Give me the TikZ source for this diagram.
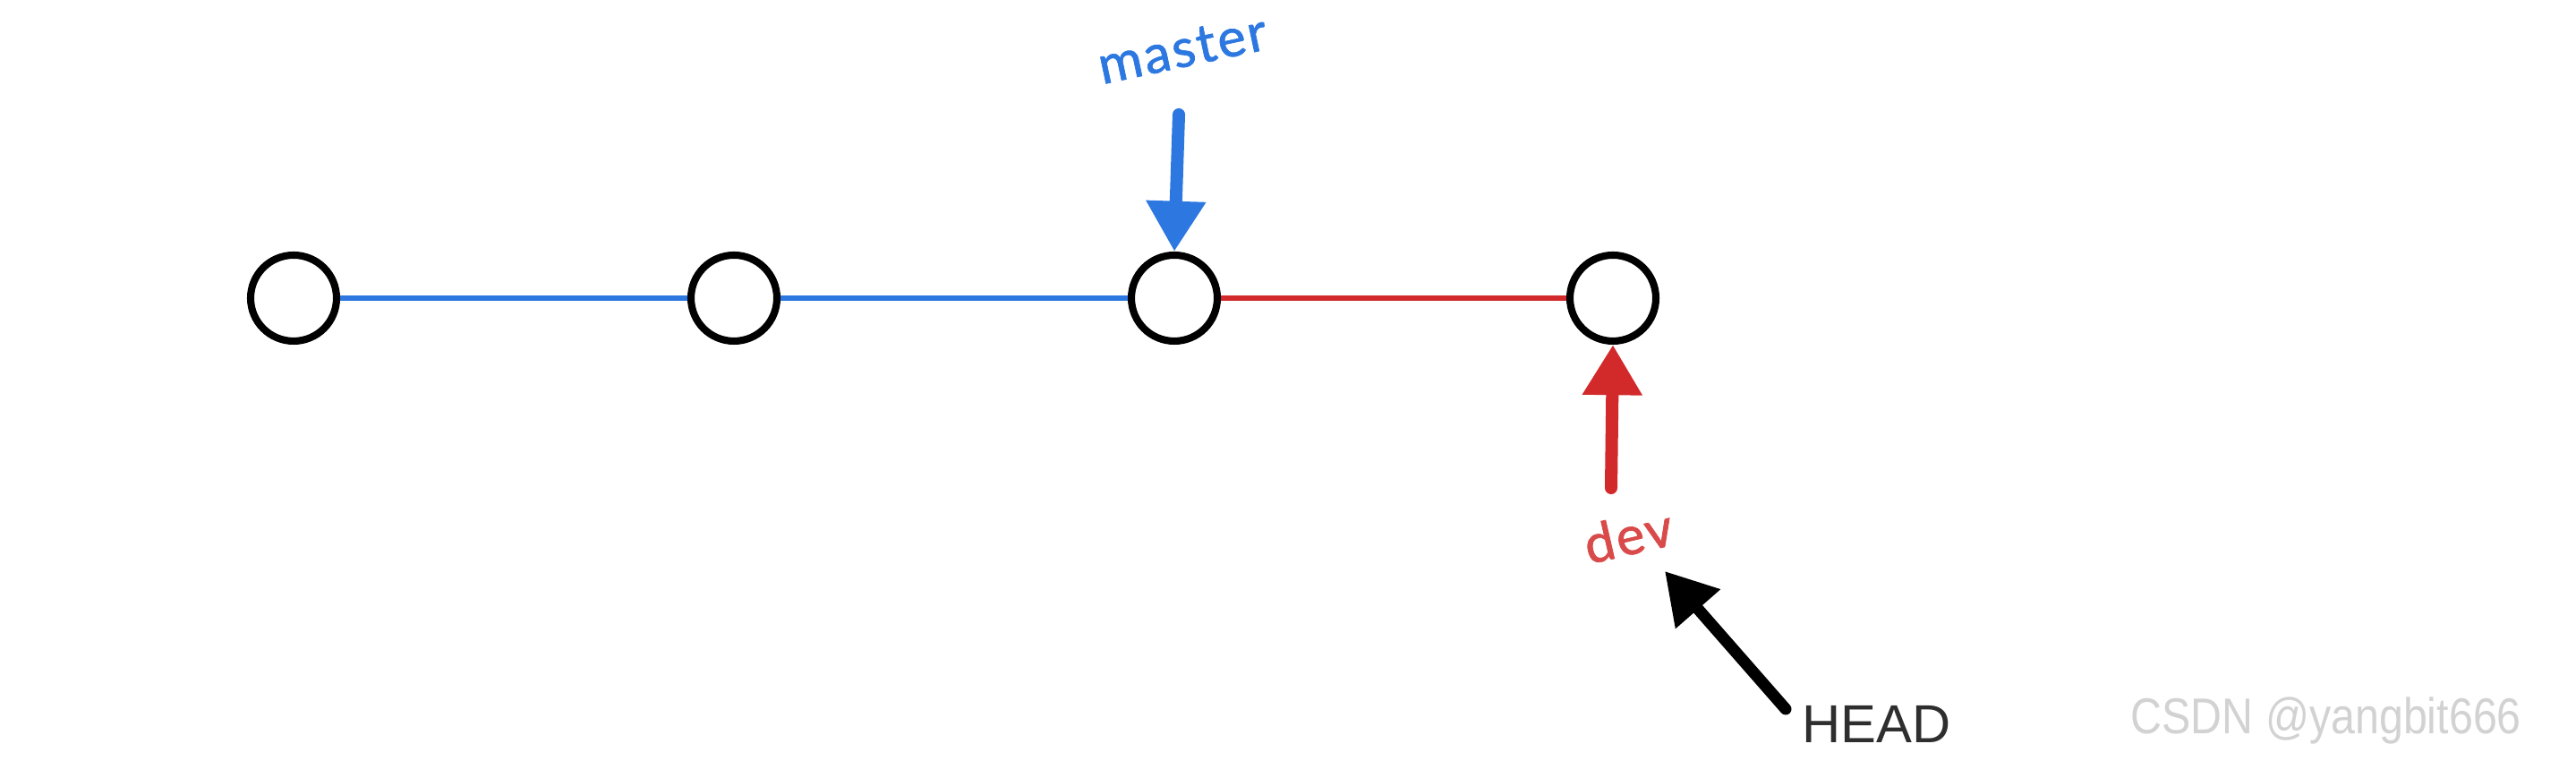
\documentclass[tikz,border=0pt]{standalone}
\usepackage{fontspec}
\usepackage{xcolor}
\setmainfont{Liberation Sans}
\newfontfamily\handfont{Lato}[FakeBold=1.2, LetterSpace=4]
\usetikzlibrary{arrows.meta}
\tikzset{>={Triangle[length=16pt,width=18pt]}}
\definecolor{gitblue}{HTML}{2D78E0}
\definecolor{gitred}{HTML}{D22A2A}
\definecolor{headgray}{HTML}{2E2E2E}
\definecolor{markgray}{HTML}{D2D2D2}
\tikzset{
  commit/.style={circle, draw=black, line width=2.3pt, minimum size=0.96cm, inner sep=0pt},
  branchline/.style={line width=1.6pt},
  pointer/.style={->, line width=4pt, line cap=round},
  branchname/.style={font=\handfont\fontsize{17}{20}\selectfont, inner sep=0pt}
}

\begin{document}
\begin{tikzpicture}
    \useasboundingbox (0, 0) rectangle (28.78, 8.5);
    % commits
    \node[commit] (c1) at (3.28, 5.17) {};
    \node[commit] (c2) at (8.20, 5.17) {};
    \node[commit] (c3) at (13.12, 5.17) {};
    \node[commit] (c4) at (18.02, 5.17) {};
    \draw[branchline, gitblue] (c1) -- (c2);
    \draw[branchline, gitblue] (c2) -- (c3);
    \draw[branchline, gitred] (c3) -- (c4);
    % branch pointers
    \node[branchname, text=gitblue, rotate=12] (master) at (13.21, 7.95) {master};
    \coordinate (mtail) at (13.17, 7.22);
    \draw[pointer, gitblue] (mtail) -- (c3.north);
    \node[branchname, text=gitred!85, rotate=13] (dev) at (18.19, 2.52) {dev};
    \coordinate (dtail) at (18.00, 3.05);
    \draw[pointer, gitred] (dtail) -- (c4.south);
    % HEAD
    \node[anchor=base west, inner sep=0pt, text=headgray, font=\fontsize{17}{20}\selectfont] (head) at (20.13, 0.20) {HEAD};
    \coordinate (htail) at (19.95, 0.58);
    \coordinate (htip) at (18.60, 2.12);
    \draw[pointer, line width=3.7pt, black] (htail) -- (htip);
    \node[anchor=base west, inner sep=0pt, text=markgray, font=\fontsize{16}{19}\selectfont] (mark) at (23.80, 0.30) {\scalebox{0.86}[1]{CSDN @yangbit666}};
  \end{tikzpicture}
\end{document}
